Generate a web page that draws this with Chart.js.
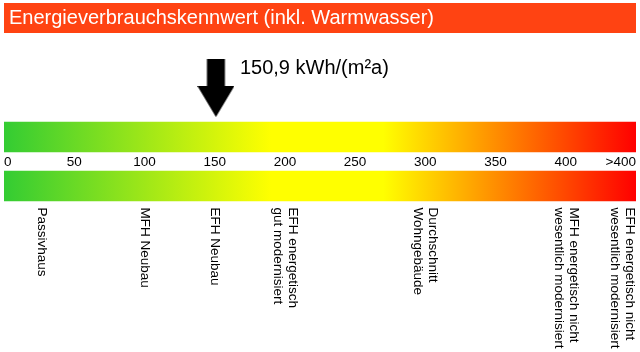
<!DOCTYPE html>
<html lang="de">
<head>
<meta charset="utf-8">
<title>Energieverbrauchskennwert</title>
<script src="https://cdn.jsdelivr.net/npm/chart.js@4/dist/chart.umd.min.js"></script>
<style>
  body { margin: 0; background: #fff; }
  #box { width: 640px; height: 352px; }
</style>
</head>
<body>
<div id="box"><canvas id="skala"></canvas></div>
<script>
const titel = "Energieverbrauchskennwert (inkl. Warmwasser)";
const zeilen = ["pfeil", "oben", "unten"];
const skalaEnde = [null, 450, 450];
const kennwert = 150.9;
const einheit = "kWh/(m²a)";
const tickWerte = [0, 50, 100, 150, 200, 250, 300, 350, 400, 450];
const tickTexte = ["0", "50", "100", "150", "200", "250", "300", "350", "400", ">400"];
const vergleichWerte = [27, 100, 150, 200, 300, 400, 440];
const vergleichTexte = [
  "Passivhaus",
  "MFH Neubau",
  "EFH Neubau",
  ["EFH energetisch", "gut modernisiert"],
  ["Durchschnitt", "Wohngebäude"],
  ["MFH energetisch nicht", "wesentlich modernisiert"],
  ["EFH energetisch nicht", "wesentlich modernisiert"],
];

// farbverlauf gruen -> gelb -> rot
const verlauf = [[0, "#33cc33"], [190, "#ffff00"], [270, "#ffff00"], [450, "#ff0000"]];

const schrift = '"Liberation Sans", Arial, sans-serif';
Chart.defaults.font.family = schrift;
Chart.defaults.color = "#000";

// schwarzer pfeil als punktstil
const pfeil = document.createElement("canvas");
pfeil.width = 37;
pfeil.height = 58;
const p = pfeil.getContext("2d");
p.fillStyle = "#000";
p.beginPath();
p.moveTo(9.5, 0);
p.lineTo(27.5, 0);
p.lineTo(27.5, 27);
p.lineTo(37, 27);
p.lineTo(18.5, 58);
p.lineTo(0, 27);
p.lineTo(9.5, 27);
p.closePath();
p.fill();

function balkenFarbe(context) {
  const chart = context.chart;
  if (!chart.chartArea) return "#ffff00";
  const x = chart.scales.x;
  const g = chart.ctx.createLinearGradient(x.getPixelForValue(x.min), 0, x.getPixelForValue(x.max), 0);
  verlauf.forEach(([v, c]) => g.addColorStop((v - x.min) / (x.max - x.min), c));
  return g;
}

const kopf = {
  id: "kopf",
  beforeDraw(chart) {
    const { ctx, chartArea } = chart;
    ctx.save();
    ctx.fillStyle = "#ff4312";
    ctx.fillRect(chartArea.left, 3, chartArea.right - chartArea.left, 30);
    ctx.fillStyle = "#fff";
    ctx.font = "20px " + schrift;
    ctx.textBaseline = "middle";
    ctx.fillText(titel, chartArea.left + 5, 18.5);
    ctx.restore();
  },
};

const beschriftung = {
  id: "beschriftung",
  afterDatasetsDraw(chart) {
    const { ctx } = chart;
    const x = chart.scales.x;
    ctx.save();
    ctx.fillStyle = "#000";

    // wert neben dem pfeil
    const punkt = chart.getDatasetMeta(1).data[0];
    ctx.font = "20px " + schrift;
    ctx.textBaseline = "middle";
    ctx.textAlign = "left";
    ctx.fillText(String(kennwert).replace(".", ",") + " " + einheit, punkt.x + 24, punkt.y - 20);

    // vergleichswerte, senkrecht
    ctx.font = "13.5px " + schrift;
    const unten = chart.chartArea.bottom - 3;
    vergleichWerte.forEach((v, i) => {
      const lines = [].concat(vergleichTexte[i]);
      ctx.save();
      ctx.translate(x.getPixelForValue(v), unten);
      ctx.rotate(Math.PI / 2);
      lines.forEach((t, j) => {
        ctx.fillText(t, 0, (j - (lines.length - 1) / 2) * 15);
      });
      ctx.restore();
    });
    ctx.restore();
  },
};

new Chart(document.getElementById("skala"), {
  type: "bar",
  data: {
    labels: zeilen,
    datasets: [
      {
        data: skalaEnde,
        backgroundColor: balkenFarbe,
        borderWidth: 0,
        barThickness: 30,
      },
      {
        type: "scatter",
        data: [{ x: kennwert, y: "pfeil" }],
        pointStyle: pfeil,
        pointRadius: 20,
        clip: false,
      },
    ],
  },
  options: {
    indexAxis: "y",
    responsive: true,
    maintainAspectRatio: false,
    animation: false,
    events: [],
    layout: {
      autoPadding: false,
      padding: { top: 63.5, bottom: 141.5, left: 4, right: 4 },
    },
    scales: {
      x: {
        type: "linear",
        min: 0,
        max: 450,
        position: { y: 1.5 },
        grid: { display: false, drawTicks: false },
        border: { display: false },
        afterBuildTicks: (axis) => {
          axis.ticks = tickWerte.map((v) => ({ value: v }));
        },
        ticks: {
          align: "inner",
          autoSkip: false,
          maxRotation: 0,
          padding: -7,
          font: { size: 13.5 },
          callback: (v, i) => tickTexte[i],
        },
      },
      y: {
        type: "category",
        offset: true,
        display: false,
      },
    },
    plugins: {
      legend: { display: false },
      tooltip: { enabled: false },
      title: { display: false },
    },
  },
  plugins: [kopf, beschriftung],
});
</script>
</body>
</html>
